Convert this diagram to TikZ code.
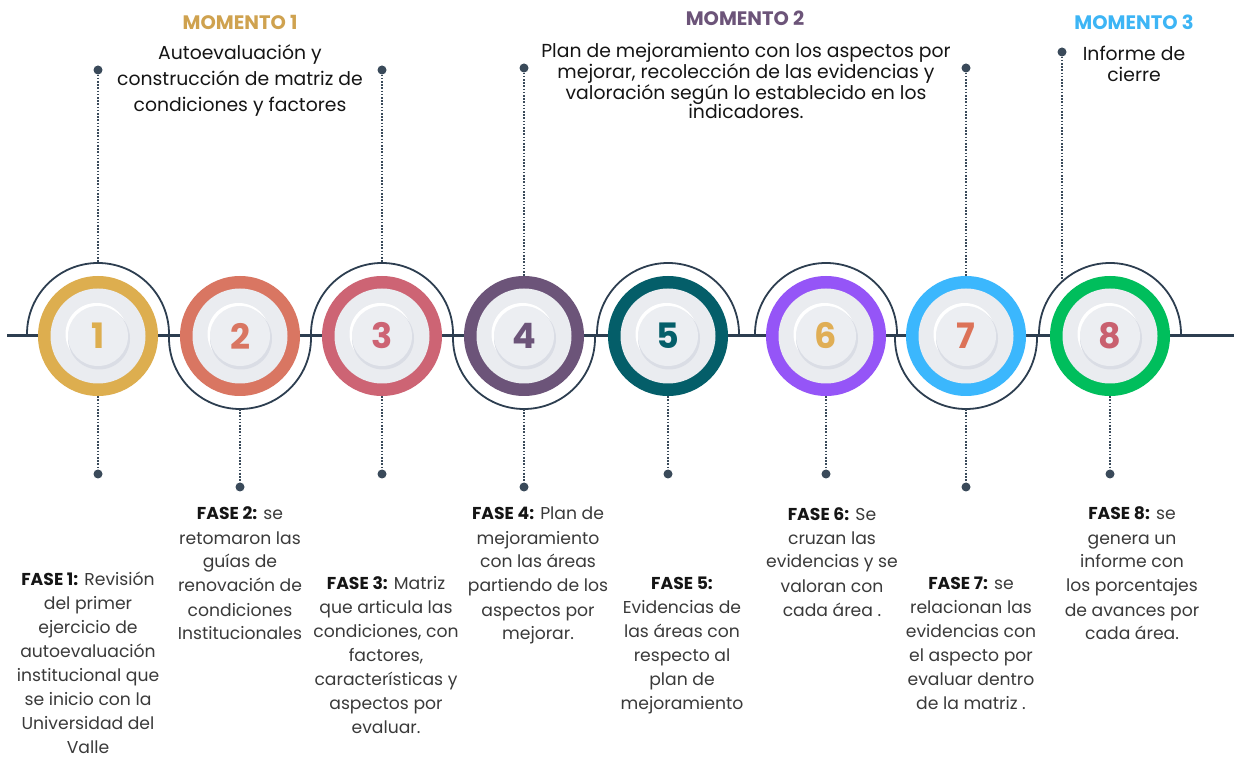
\documentclass[tikz,border=0pt]{standalone}
\usepackage{fontspec}
\setmainfont{Poppins}
\usetikzlibrary{calc}
\definecolor{navy}{HTML}{2D3E50}
\definecolor{dotc}{HTML}{3A4A5A}
\definecolor{bodyc}{HTML}{3A3A3A}
\definecolor{faseblack}{HTML}{151515}
\definecolor{mA}{HTML}{CFA24F}
\definecolor{mB}{HTML}{6C5479}
\definecolor{mC}{HTML}{3DB5F5}
\definecolor{ringA}{HTML}{DDAE4F}
\definecolor{ringB}{HTML}{D97662}
\definecolor{ringC}{HTML}{CD6474}
\definecolor{ringD}{HTML}{6C5479}
\definecolor{ringE}{HTML}{045E69}
\definecolor{ringF}{HTML}{9555F7}
\definecolor{ringG}{HTML}{3BB7FD}
\definecolor{ringH}{HTML}{00BE5C}
\definecolor{numF}{HTML}{E0AE55}
\definecolor{numG}{HTML}{DC7258}
\definecolor{numH}{HTML}{C9606F}
\definecolor{plate}{HTML}{EAECF0}
\definecolor{plateshadow}{HTML}{DADDE5}
\definecolor{plateinner}{HTML}{ECEEF2}
\begin{document}
\begin{tikzpicture}[x=1pt,y=1pt,
  mainline/.style={draw=navy, line width=3pt},
  arcline/.style={draw=navy, line width=1.8pt},
  dotline/.style={draw=dotc, line width=2pt, dash pattern=on 1.6pt off 1.6pt},
  enddot/.style={circle, fill=dotc, inner sep=0pt, minimum size=9pt},
  ringnode/.style={circle, inner sep=0pt, minimum size=120pt},
  numtext/.style={font=\fontsize{35}{35}\selectfont\bfseries, inner sep=0pt},
  mtitle/.style={font=\fontsize{19.5}{22}\selectfont\bfseries, inner sep=0pt, anchor=center},
  descA/.style={font=\fontsize{18.8}{26}\selectfont, align=center, inner sep=0pt, anchor=north, yshift=12pt, text=faseblack},
  descB/.style={font=\fontsize{18.8}{19.5}\selectfont, align=center, inner sep=0pt, anchor=north, yshift=7.5pt, text=faseblack},
  phase/.style={font=\fontsize{17.2}{24}\selectfont, align=center, inner sep=0pt, anchor=north, yshift=11pt, text=bodyc}
]
\useasboundingbox (0,0) rectangle (1234,758);
\fill[white] (0,0) rectangle (1234,758);

% main timeline
\coordinate (L0) at (7,422);
\coordinate (L1) at (1234,422);
\draw[mainline] (L0) -- (L1);

% circle positions
\foreach \i/\x in {1/98,2/240,3/382,4/524,5/668,6/826,7/966,8/1110}{
  \coordinate (p\i) at (\x,422);
}

% arcs (up or down)
\foreach \i in {1,3,5,6,8}{
  \draw[arcline] ($(p\i)+(-71,0)$) -- ++(0,2) arc[start angle=180, end angle=0, radius=71] -- ++(0,-2);
  \coordinate (a\i) at ($(p\i)+(0,73)$);
}
\foreach \i in {2,4,7}{
  \draw[arcline] ($(p\i)+(-71,0)$) -- ++(0,-2) arc[start angle=180, end angle=360, radius=71] -- ++(0,2);
  \coordinate (a\i) at ($(p\i)+(0,-73)$);
}

% circles
\foreach \i/\rc/\nc in {1/ringA/ringA,2/ringB/ringB,3/ringC/ringC,4/ringD/ringD,5/ringE/ringE,6/ringF/numF,7/ringG/numG,8/ringH/numH}{
  \node[ringnode, fill=\rc] (c\i) at (p\i) {};
  \fill[plate] (c\i.center) circle[radius=47.5];
  \fill[white] ($(c\i.center)+(-1.5,2)$) circle[radius=31];
  \fill[plateshadow] ($(c\i.center)+(1,-2.5)$) circle[radius=31];
  \fill[plateinner] (c\i.center) circle[radius=30];
  \node[numtext, text=\nc] (n\i) at (c\i.center) {\i};
}

% top dots and dotted lines
\node[enddot] (t1) at (98,688) {};
\node[enddot] (t3) at (382,688) {};
\node[enddot] (t4) at (524,690) {};
\node[enddot] (t7) at (966,690) {};
\node[enddot] (t8) at (1062,706) {};
\coordinate (a8p) at (1062,478);
\draw[dotline] (t1) -- (a1);
\draw[dotline] (t3) -- (a3);
\draw[dotline] (t4) -- (c4.north);
\draw[dotline] (t7) -- (c7.north);
\draw[dotline] (t8) -- (a8p);

% bottom dots and dotted lines
\node[enddot] (b1) at (98,284) {};
\node[enddot] (b2) at (240,271) {};
\node[enddot] (b3) at (382,284) {};
\node[enddot] (b4) at (524,271) {};
\node[enddot] (b5) at (668,284) {};
\node[enddot] (b6) at (826,284) {};
\node[enddot] (b7) at (966,271) {};
\node[enddot] (b8) at (1110,284) {};
\draw[dotline] (c1.south) -- (b1);
\draw[dotline] (a2) -- (b2);
\draw[dotline] (c3.south) -- (b3);
\draw[dotline] (a4) -- (b4);
\draw[dotline] (c5.south) -- (b5);
\draw[dotline] (c6.south) -- (b6);
\draw[dotline] (a7) -- (b7);
\draw[dotline] (c8.south) -- (b8);

% moments
\node[mtitle, text=mA] (m1) at (240,736) {MOMENTO 1};
\node[descA] (d1) at (240,705) {\strut Autoevaluación y\\construcción de matriz de\\condiciones y factores};
\node[mtitle, text=mB] (m2) at (745,740) {MOMENTO 2};
\node[descB] (d2) at (746,708) {\strut Plan de mejoramiento con los aspectos por\\mejorar, recolección de las evidencias y\\valoración según lo establecido en los\\indicadores.};
\node[mtitle, text=mC] (m3) at (1134,736) {MOMENTO 3};
\node[descB] (d3) at (1134,705) {\strut Informe de\\cierre};

% phases
\node[phase] (f1) at (88,178.5) {\strut\textcolor{faseblack}{\textbf{FASE 1:}} Revisión\\del primer\\ejercicio de\\autoevaluación\\institucional que\\se inicio con la\\Universidad del\\Valle};
\node[phase] (f2) at (240,244) {\strut\textcolor{faseblack}{\textbf{FASE 2:}} se\\retomaron las\\guías de\\renovación de\\condiciones\\Institucionales};
\node[phase] (f3) at (386,175) {\strut\textcolor{faseblack}{\textbf{FASE 3:}} Matriz\\que articula las\\condiciones, con\\factores,\\características y\\aspectos por\\evaluar.};
\node[phase] (f4) at (538,244) {\strut\textcolor{faseblack}{\textbf{FASE 4:}} Plan de\\mejoramiento\\con las áreas\\partiendo de los\\aspectos por\\mejorar.};
\node[phase] (f5) at (682,175) {\strut\textcolor{faseblack}{\textbf{FASE 5:}}\\Evidencias de\\las áreas con\\respecto al\\plan de\\mejoramiento};
\node[phase] (f6) at (832,244) {\strut\textcolor{faseblack}{\textbf{FASE 6:}} Se\\cruzan las\\evidencias y se\\valoran con\\cada área .};
\node[phase] (f7) at (971,175) {\strut\textcolor{faseblack}{\textbf{FASE 7:}} se\\relacionan las\\evidencias con\\el aspecto por\\evaluar dentro\\de la matriz .};
\node[phase] (f8) at (1132,244) {\strut\textcolor{faseblack}{\textbf{FASE 8:}} se\\genera un\\informe con\\los porcentajes\\de avances por\\cada área.};
\end{tikzpicture}
\end{document}
